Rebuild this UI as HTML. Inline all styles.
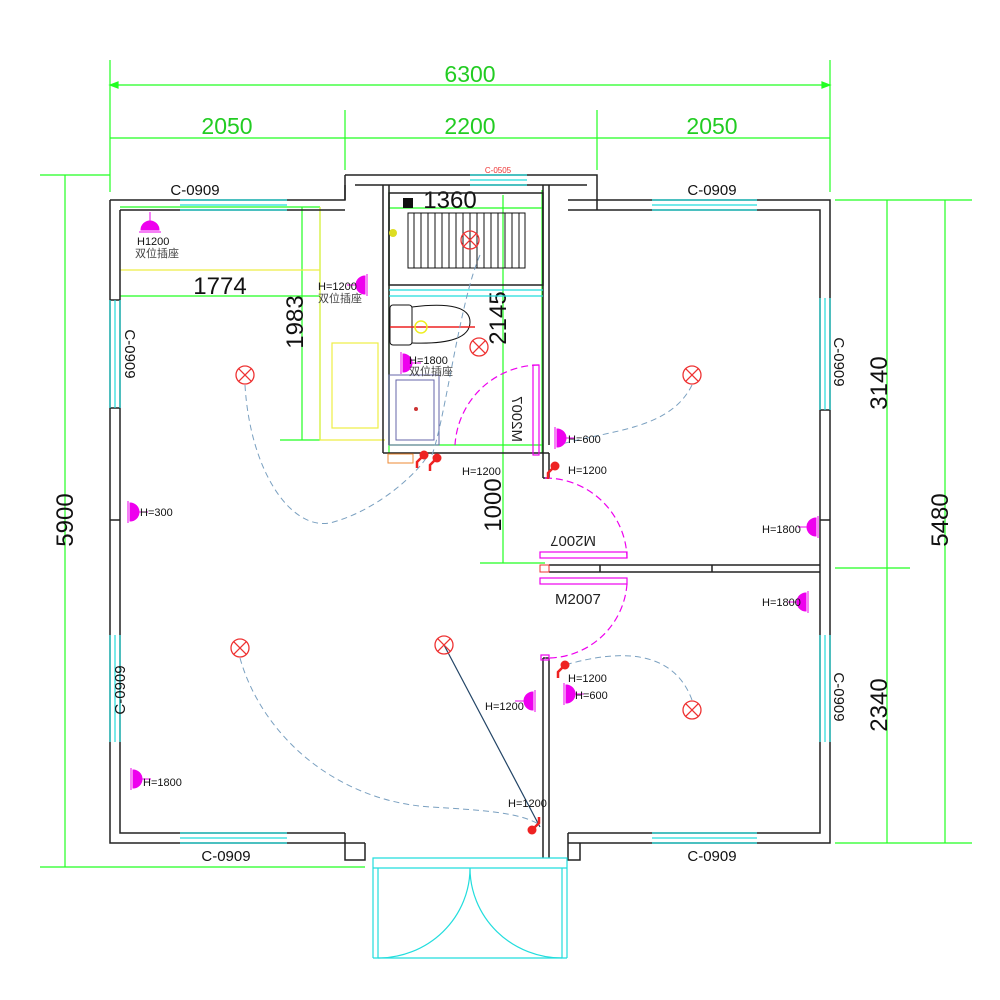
<!DOCTYPE html>
<html><head><meta charset="utf-8"><style>
html,body{margin:0;padding:0;background:#fff;width:1000px;height:1000px;overflow:hidden}
svg{display:block}
text{font-family:"Liberation Sans","Noto Sans CJK SC",sans-serif}
</style></head><body>
<svg width="1000" height="1000" viewBox="0 0 1000 1000" xmlns="http://www.w3.org/2000/svg">
<defs>
<g id="lamp"><circle r="9" fill="none" stroke="#e33" stroke-width="1.3"/><path d="M-6.4,-6.4L6.4,6.4M-6.4,6.4L6.4,-6.4" stroke="#e33" stroke-width="1.3"/></g>
<g id="sockR"><path d="M0,-9 A9,9 0 0 1 0,9 Z" fill="#e0e" stroke="#e0e"/><path d="M-2,-11V11M9,0H18" stroke="#e0e" stroke-width="1"/></g>
<g id="sockL"><path d="M0,-9 A9,9 0 0 0 0,9 Z" fill="#e0e" stroke="#e0e"/><path d="M2,-11V11M-9,0H-18" stroke="#e0e" stroke-width="1"/></g>
<g id="sw"><circle r="4.5" fill="#e22"/><path d="M0,0L-7,7V13" stroke="#e22" stroke-width="2.5" fill="none"/></g>
</defs>
<g stroke="#2f2" stroke-width="1.2" fill="none">
<path d="M110,85H830M110,60V192M830,60V192"/>
<path d="M110,138H830M345,110V170M597,110V170"/>
<path d="M110,85l8,-3v6zM830,85l-8,-3v6z" fill="#2f2"/>
<path d="M65,175V867M40,175H110M40,867H365"/>
<path d="M945,200V843M835,200H972M835,843H972M887,200V843M835,568H910"/>
<path d="M120,296H320M302,207V440M280,440H320M320,207V440M120,207H320"/>
<path d="M389,208H543M503,195V563M480,563H545M389,190V453M542,190V453"/>
<path d="M389,445H543"/>
</g>
<g fill="#2c2" font-size="23">
<text x="470" y="82" text-anchor="middle">6300</text>
<text x="227" y="134" text-anchor="middle">2050</text>
<text x="470" y="134" text-anchor="middle">2200</text>
<text x="712" y="134" text-anchor="middle">2050</text>
</g>
<g fill="#111" font-size="24">
<text x="220" y="294" text-anchor="middle">1774</text>
<text x="450" y="208" text-anchor="middle">1360</text>
<text transform="translate(73,520) rotate(-90)" text-anchor="middle">5900</text>
<text transform="translate(303,322) rotate(-90)" text-anchor="middle">1983</text>
<text transform="translate(506,318) rotate(-90)" text-anchor="middle">2145</text>
<text transform="translate(501,505) rotate(-90)" text-anchor="middle">1000</text>
<text transform="translate(887,383) rotate(-90)" text-anchor="middle">3140</text>
<text transform="translate(948,520) rotate(-90)" text-anchor="middle">5480</text>
<text transform="translate(887,705) rotate(-90)" text-anchor="middle">2340</text>
</g>
<g stroke="#ee4" stroke-width="1.2" fill="none">
<path d="M120,270H320V440H385M320,207V270"/>
<rect x="332" y="343" width="46" height="85"/>
</g>
<g stroke="#222" stroke-width="1.5" fill="none">
<path d="M110,200H345V185M120,210H345M110,200V843H365M120,210V833H345"/>
<path d="M568,200H830V843H568M568,210H820V833H568"/>
<path d="M345,175H597V200M355,185H587M345,175V200M597,175V210"/>
<path d="M383,185V453M389,185V445M543,185V453M549,185V445M383,453H549"/>
<path d="M543,453V478M549,453V478M543,658V858M549,658V858M543,478H549M543,658H549"/>
<path d="M549,565H820M549,572H820M600,565V572M712,565V572"/>
<path d="M110,520H120M110,300H120M110,408H120M820,520H830M820,410H830"/>
<path d="M345,833V860H365V843M568,833V860H580V843"/>
<rect x="389" y="193" width="154" height="92"/>
</g>
<g stroke="#2dd" stroke-width="1.2" fill="none">
<path d="M180,200H287M180,205H287M180,210H287"/>
<path d="M652,200H757M652,205H757M652,210H757"/>
<path d="M180,833H287M180,838H287M180,843H287"/>
<path d="M652,833H757M652,838H757M652,843H757"/>
<path d="M110,300V408M115,300V408M120,300V408"/>
<path d="M110,635V742M115,635V742M120,635V742"/>
<path d="M820,298V410M825,298V410M830,298V410"/>
<path d="M820,635V742M825,635V742M830,635V742"/>
<path d="M470,175H527M470,180H527M470,185H527"/>
<path d="M389,290H543M389,296H543"/>
<path d="M373,858H567V868H373ZM373,858V958M378,868V958M562,868V958M567,858V958M373,958H470M470,958H567"/>
<path d="M470,868A92,90 0 0 1 378,958M470,868A92,90 0 0 0 562,958"/>
</g>
<g stroke="#111" stroke-width="1" fill="none">
<rect x="408" y="213" width="117" height="55"/>
<path d="M414,213V268M421,213V268M428,213V268M435,213V268M442,213V268M449,213V268M456,213V268M463,213V268M470,213V268M477,213V268M484,213V268M491,213V268M498,213V268M505,213V268M512,213V268M519,213V268"/>
<rect x="390" y="305" width="22" height="40" rx="3"/>
<path d="M412,307Q470,300 470,322Q470,345 412,343"/>
</g>
<rect x="403" y="198" width="10" height="10" fill="#111"/>
<circle cx="393" cy="233" r="4" fill="#dd2"/>
<path d="M390,327H475" stroke="#e22" stroke-width="1.5"/>
<circle cx="421" cy="327" r="6" fill="none" stroke="#ee2" stroke-width="1.5"/>
<g stroke="#66a" stroke-width="1" fill="none"><rect x="389" y="375" width="50" height="70"/><rect x="396" y="380" width="38" height="60"/></g>
<circle cx="416" cy="409" r="2" fill="#c33"/>
<g stroke="#e0e" stroke-width="1.2" fill="none">
<rect x="533" y="365" width="6" height="90"/>
<path d="M539,365A85,85 0 0 0 455,445" stroke-dasharray="7,4"/>
<rect x="540" y="552" width="87" height="6"/><rect x="540" y="578" width="87" height="6"/>
<path d="M545,478A82,82 0 0 1 627,558" stroke-dasharray="7,4"/>
<path d="M627,584A80,80 0 0 1 545,658" stroke-dasharray="7,4"/>
<rect x="541" y="655" width="8" height="5"/>
</g>
<rect x="540" y="565" width="9" height="7" fill="none" stroke="#e33"/>
<g font-family="Liberation Serif,serif" font-size="15" fill="#222">
<text x="555" y="604">M2007</text>
<text transform="translate(596,536) scale(-1,-1)">M2007</text>
<text transform="translate(512,442) rotate(-90) scale(1,-1)">M2007</text>
</g>
<g stroke="#7aa0c0" stroke-width="1" fill="none" stroke-dasharray="6,4">
<path d="M245,385C250,470 290,530 330,523C380,510 420,470 428,455"/>
<path d="M480,255C460,300 445,420 432,455"/>
<path d="M692,385C670,430 610,430 558,445"/>
<path d="M240,658C260,730 330,800 430,807C480,810 520,812 540,825"/>
<path d="M692,700C670,640 600,655 565,665"/>
</g>
<path d="M444,645L540,827" stroke="#246" stroke-width="1.2"/>
<use href="#lamp" x="245" y="375"/><use href="#lamp" x="692" y="375"/>
<use href="#lamp" x="479" y="347"/><use href="#lamp" x="470" y="240"/>
<use href="#lamp" x="240" y="648"/><use href="#lamp" x="444" y="645"/>
<use href="#lamp" x="692" y="710"/>
<use href="#sockR" x="150" y="230" transform="rotate(-90 150 230)"/>
<use href="#sockR" x="365" y="285" transform="rotate(180 365 285)"/>
<use href="#sockR" x="403" y="363"/>
<use href="#sockR" x="557" y="438"/>
<use href="#sockR" x="130" y="512"/>
<use href="#sockR" x="133" y="779"/>
<use href="#sockL" x="816" y="527"/>
<use href="#sockL" x="806" y="602"/>
<use href="#sockL" x="533" y="701"/>
<use href="#sockR" x="566" y="694"/>
<use href="#sw" x="424" y="455"/><use href="#sw" x="437" y="458"/>
<use href="#sw" x="555" y="466"/><use href="#sw" x="565" y="665"/>
<use href="#sw" x="532" y="830" transform="rotate(180 532 830)"/>
<rect x="388" y="454" width="25" height="9" fill="none" stroke="#e83"/>
<g font-size="15" fill="#111">
<text x="195" y="195" text-anchor="middle">C-0909</text>
<text x="712" y="195" text-anchor="middle">C-0909</text>
<text x="226" y="861" text-anchor="middle">C-0909</text>
<text x="712" y="861" text-anchor="middle">C-0909</text>
<text transform="translate(125,354) rotate(90)" text-anchor="middle">C-0909</text>
<text transform="translate(125,690) rotate(-90)" text-anchor="middle">C-0909</text>
<text transform="translate(834,362) rotate(90)" text-anchor="middle">C-0909</text>
<text transform="translate(834,697) rotate(90)" text-anchor="middle">C-0909</text>
</g>
<text x="498" y="173" font-size="8" fill="#e33" text-anchor="middle">C-0505</text>
<g font-size="11" fill="#111">
<text x="137" y="245">H1200</text><text x="135" y="257" fill="#444">双位插座</text>
<text x="318" y="290">H=1200</text><text x="318" y="302" fill="#444">双位插座</text>
<text x="409" y="364">H=1800</text><text x="409" y="375" fill="#444">双位插座</text>
<text x="568" y="443">H=600</text>
<text x="568" y="474">H=1200</text>
<text x="462" y="475">H=1200</text>
<text x="140" y="516">H=300</text>
<text x="762" y="533">H=1800</text>
<text x="762" y="606">H=1800</text>
<text x="568" y="682">H=1200</text>
<text x="575" y="699">H=600</text>
<text x="485" y="710">H=1200</text>
<text x="508" y="807">H=1200</text>
<text x="143" y="786">H=1800</text>
</g>
</svg>
</body></html>
